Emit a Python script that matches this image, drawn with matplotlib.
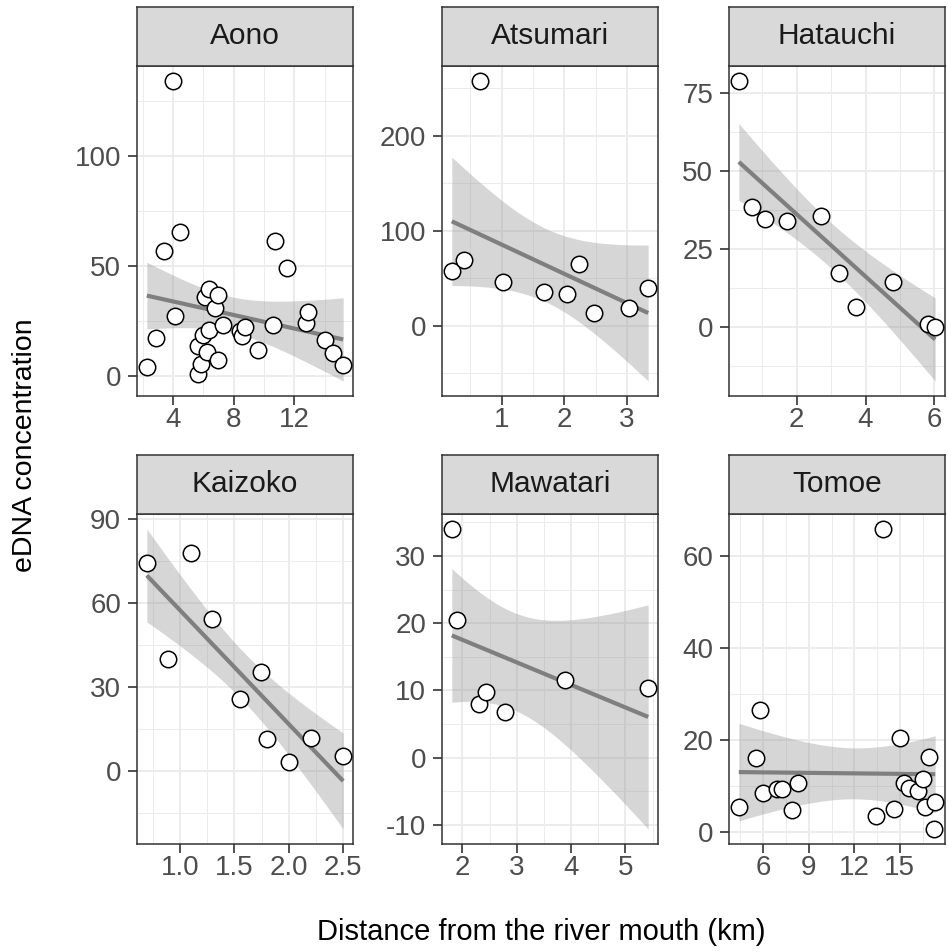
import matplotlib
matplotlib.use('Agg')
import matplotlib.pyplot as plt
import numpy as np

plt.rcParams['font.family'] = ['Liberation Sans', 'DejaVu Sans']

# Data (distance km, eDNA concentration)
aono_x = [4.0, 2.28, 2.87, 3.39, 4.15, 4.46, 5.62, 5.66, 5.88, 5.95, 6.14, 6.27, 6.36, 6.38,
          6.75, 7.0, 6.97, 7.3, 8.39, 8.57, 8.72, 9.62, 10.69, 10.6, 11.5, 12.77, 12.88,
          14.03, 14.51, 15.21]
aono_y = [134.3, 4.2, 17.1, 56.8, 27.2, 65.7, 13.6, 0.8, 5.4, 18.7, 36.0, 11.0, 39.4, 21.0,
          30.9, 37.0, 7.4, 23.3, 20.5, 18.2, 22.1, 11.7, 61.4, 23.0, 49.2, 23.9, 29.0,
          16.3, 10.5, 5.1]

atsumari_x = [0.656, 0.206, 0.397, 1.03, 1.68, 2.04, 2.24, 2.47, 3.03, 3.34]
atsumari_y = [257.4, 58.2, 69.1, 46.5, 35.5, 33.3, 65.2, 13.1, 19.1, 39.7]

hatauchi_x = [0.322, 0.714, 1.09, 1.71, 2.71, 3.22, 3.72, 4.81, 5.81, 6.02]
hatauchi_y = [78.9, 38.4, 34.8, 34.1, 35.5, 17.5, 6.4, 14.4, 0.9, 0.0]

kaizoko_x = [0.695, 0.893, 1.098, 1.296, 1.549, 1.747, 1.799, 2.0, 2.2, 2.5]
kaizoko_y = [74.4, 40.0, 78.0, 54.4, 25.5, 35.4, 11.4, 3.0, 11.8, 5.3]

mawatari_x = [1.805, 1.90, 2.31, 2.44, 2.78, 3.88, 5.42]
mawatari_y = [34.0, 20.4, 8.0, 9.7, 6.8, 11.5, 10.3]

tomoe_x = [4.39, 5.50, 5.78, 6.0, 6.92, 7.22, 7.92, 8.31, 13.41, 13.91, 14.61, 15.0, 15.26,
           15.59, 16.2, 16.52, 16.9, 16.68, 17.33, 17.22]
tomoe_y = [5.4, 16.0, 26.5, 8.4, 9.4, 9.4, 4.7, 10.7, 3.4, 65.9, 4.9, 20.5, 10.6,
           9.6, 8.8, 11.5, 16.2, 5.3, 6.4, 0.6]

sites = ['Aono', 'Atsumari', 'Hatauchi', 'Kaizoko', 'Mawatari', 'Tomoe']
xs_all = [aono_x, atsumari_x, hatauchi_x, kaizoko_x, mawatari_x, tomoe_x]
ys_all = [aono_y, atsumari_y, hatauchi_y, kaizoko_y, mawatari_y, tomoe_y]

x_breaks = [[4, 8, 12], [1, 2, 3], [2, 4, 6], [1.0, 1.5, 2.0, 2.5], [2, 3, 4, 5], [6, 9, 12, 15]]
y_breaks = [[0, 50, 100], [0, 100, 200], [0, 25, 50, 75], [0, 30, 60, 90],
            [-10, 0, 10, 20, 30], [0, 20, 40, 60]]
x_fmt = ['{:g}', '{:g}', '{:g}', '{:.1f}', '{:g}', '{:g}']


def t_quant(df, z=1.644854):
    # Cornish-Fisher approximation of the t quantile (two sided 90% band)
    return (z + (z**3 + z) / (4 * df) + (5 * z**5 + 16 * z**3 + 3 * z) / (96 * df**2)
            + (3 * z**7 + 19 * z**5 + 17 * z**3 - 15 * z) / (384 * df**3))


def lm_band(x, y, n=80):
    x = np.asarray(x, float)
    y = np.asarray(y, float)
    b1, b0 = np.polyfit(x, y, 1)
    grid = np.linspace(x.min(), x.max(), n)
    fit = b0 + b1 * grid
    df = len(x) - 2
    s = np.sqrt(np.sum((y - (b0 + b1 * x)) ** 2) / df)
    se = s * np.sqrt(1 / len(x) + (grid - x.mean()) ** 2 / np.sum((x - x.mean()) ** 2))
    t = t_quant(df)
    return grid, fit, fit - t * se, fit + t * se


W, H = 948, 952
fig = plt.figure(figsize=(W / 100, H / 100), dpi=100)

col_left = [137, 442, 729]
row_top = [66, 514]
pw, ph, sh = 216, 330, 59

text_grey = '#4d4d4d'
for i, site in enumerate(sites):
    r, c = divmod(i, 3)
    left = col_left[c]
    top = row_top[r]
    ax = fig.add_axes([left / W, 1 - (top + ph) / H, pw / W, ph / H])
    sax = fig.add_axes([left / W, 1 - top / H, pw / W, sh / H])

    x = xs_all[i]
    y = ys_all[i]
    grid, fit, lo, hi = lm_band(x, y)

    ax.fill_between(grid, lo, hi, color='#999999', alpha=0.4, lw=0, zorder=2)
    ax.plot(grid, fit, color='#7f7f7f', lw=3, zorder=3, solid_capstyle='butt')
    ax.scatter(x, y, s=140, facecolor='white', edgecolor='black', linewidth=1.1, zorder=4)

    xb = x_breaks[i]
    yb = y_breaks[i]
    xstep = xb[1] - xb[0]
    ystep = yb[1] - yb[0]
    ax.set_xticks(xb)
    ax.set_xticklabels([x_fmt[i].format(v) for v in xb])
    ax.set_yticks(yb)
    ax.set_yticklabels(['{:g}'.format(v) for v in yb])
    xminor = np.arange(xb[0] - 1.5 * xstep, xb[-1] + 2 * xstep, xstep)
    yminor = np.arange(yb[0] - 1.5 * ystep, yb[-1] + 2 * ystep, ystep)
    ax.set_xticks(xminor, minor=True)
    ax.set_yticks(yminor, minor=True)

    # ggplot style 5% expansion, set after the ticks so they do not widen the view
    xmin, xmax = min(x), max(x)
    dx = (xmax - xmin) * 0.05
    ymin = min(min(y), lo.min())
    ymax = max(max(y), hi.max())
    dy = (ymax - ymin) * 0.05
    ax.set_xlim(xmin - dx, xmax + dx)
    ax.set_ylim(ymin - dy, ymax + dy)

    ax.grid(which='major', color='#ebebeb', lw=1.3, zorder=0)
    ax.grid(which='minor', color='#ebebeb', lw=0.7, zorder=0)
    ax.set_axisbelow(True)
    ax.tick_params(which='minor', length=0)
    ax.tick_params(which='major', length=6.5, width=1.2, color='#333333',
                   labelsize=20, labelcolor=text_grey)
    ax.tick_params(axis='x', pad=1.5)
    ax.tick_params(axis='y', pad=5)
    for sp in ax.spines.values():
        sp.set_color('#333333')
        sp.set_linewidth(1.1)

    sax.set_facecolor('#d9d9d9')
    sax.set_xticks([])
    sax.set_yticks([])
    for sp in sax.spines.values():
        sp.set_color('#333333')
        sp.set_linewidth(1.1)
    sax.text(0.5, 0.5, site, ha='center', va='center', fontsize=21.5, color='#1a1a1a',
             transform=sax.transAxes)

fig.text(541 / W, 1 - 932 / H, 'Distance from the river mouth (km)', ha='center', va='center',
         fontsize=21, color='black')
fig.text(25 / W, 1 - 445 / H, 'eDNA concentration', ha='center', va='center',
         rotation=90, fontsize=20.5, color='black')

fig.savefig('out.png', dpi=100)
